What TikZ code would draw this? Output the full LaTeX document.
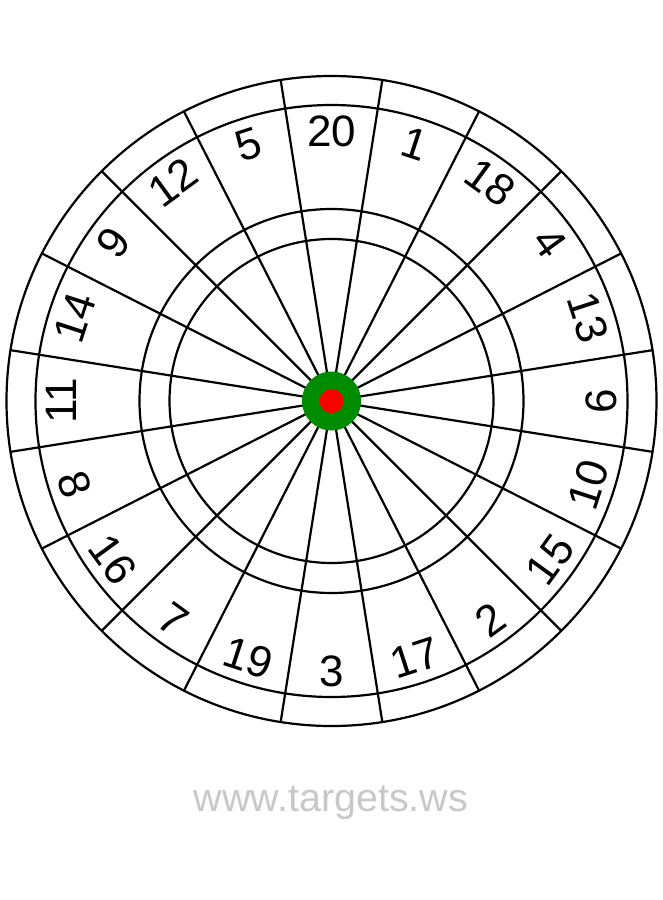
\documentclass[tikz,border=0pt]{standalone}
\usepackage{fontspec}
\setmainfont{Liberation Sans}
\usetikzlibrary{calc}
\definecolor{bullgreen}{RGB}{0,140,0}
\definecolor{bullred}{RGB}{255,0,0}
\definecolor{wmgrey}{RGB}{200,200,200}
\begin{document}
\begin{tikzpicture}[x=1pt,y=1pt,
  ring/.style={draw=black,line width=2.2pt},
  spoke/.style={draw=black,line width=2.2pt},
  numlabel/.style={font=\fontsize{44}{44}\selectfont,inner sep=0pt,anchor=center},
  watermark/.style={font=\fontsize{39.5}{39.5}\selectfont,text=wmgrey,inner sep=0pt,anchor=base}]
\useasboundingbox (0,0) rectangle (662,-900);
\coordinate (O) at (331.5,-401);
% spokes
\foreach \a in {9,27,...,351} \draw[spoke] (O) -- ++(\a:325);
% rings
\foreach \r in {325,296,192,162} \draw[ring] (O) circle[radius=\r];
% bull
\fill[bullgreen] (O) circle[radius=29.5];
\fill[bullred] (O) circle[radius=12];
% numbers
\foreach \n/\a/\rot in {20/90/0, 1/72/-18, 18/54/-36, 4/36/-54, 13/18/-72, 6/0/90,
  10/-18/72, 15/-36/54, 2/-54/36, 17/-72/18, 3/-90/0, 19/-108/-18, 7/-126/-36,
  16/-144/-54, 8/-162/-72, 11/180/90, 14/162/72, 9/144/54, 12/126/36, 5/108/18}
  \node[numlabel,rotate=\rot] (n\n) at ($(O)+(\a:270)$) {\n};
\node[watermark] (wm) at (331,-811) {www.targets.ws};
\end{tikzpicture}
\end{document}
